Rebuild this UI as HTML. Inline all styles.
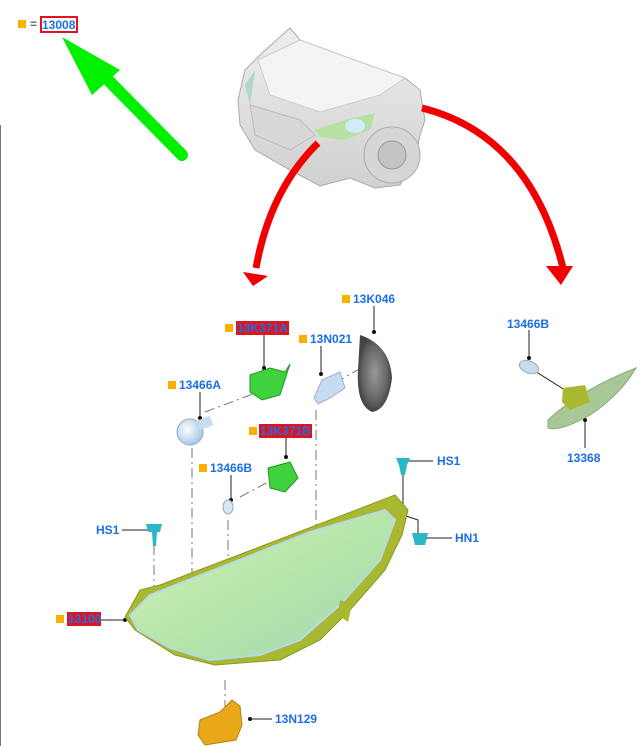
<!DOCTYPE html>
<html><head><meta charset="utf-8"><style>
html,body{margin:0;padding:0;background:#fff;}
svg{display:block}
text{font-family:"Liberation Sans",Arial,sans-serif;font-weight:bold;font-size:12px;fill:#1a6fe8}
</style></head><body>
<svg width="643" height="746" viewBox="0 0 643 746" xmlns="http://www.w3.org/2000/svg">
<defs>
<linearGradient id="lamp" x1="0" y1="0" x2="1" y2="1"><stop offset="0" stop-color="#d8f2c0"/><stop offset="0.5" stop-color="#b6e6a8"/><stop offset="1" stop-color="#9fd8b8"/></linearGradient>
<radialGradient id="bulb" cx="0.4" cy="0.4" r="0.6"><stop offset="0" stop-color="#ffffff"/><stop offset="1" stop-color="#a9c8e8"/></radialGradient>
<radialGradient id="cap" cx="0.5" cy="0.5" r="0.5"><stop offset="0" stop-color="#999"/><stop offset="0.7" stop-color="#666"/><stop offset="1" stop-color="#444"/></radialGradient>
<linearGradient id="car" x1="0" y1="0" x2="0" y2="1"><stop offset="0" stop-color="#eeeeee"/><stop offset="1" stop-color="#d0d0d0"/></linearGradient>
</defs>
<line x1="0.5" y1="125" x2="0.5" y2="746" stroke="#777" stroke-width="1"/>
<rect x="18" y="20" width="8" height="8" fill="#fbb000"/>
<text x="30" y="28" style="fill:#666">=</text>
<rect x="41" y="17" width="36" height="15" fill="#fff" stroke="#e0141e" stroke-width="2"/>
<text x="42" y="29">13008</text>
<line x1="182" y1="155" x2="110" y2="82" stroke="#00f000" stroke-width="12" stroke-linecap="round"/>
<polygon points="62,37 120,70 92,95" fill="#00f000"/>
<!-- car -->
<path d="M290,28 L300,40 L360,62 L405,78 L420,90 L425,120 L420,135 L415,160 L400,185 L375,188 L350,178 L320,186 L290,170 L255,150 L240,125 L238,100 L245,70 L260,55 Z" fill="url(#car)" stroke="#aaa"/>
<path d="M258,60 L300,40 L360,62 L405,78 L380,95 L320,112 L270,95 Z" fill="#f4f4f4" stroke="#ccc"/>
<path d="M250,105 L300,120 L315,135 L290,150 L255,135 Z" fill="#d8d8d8" stroke="#bbb"/>
<path d="M315,130 L345,120 L375,113 L370,130 L345,140 L320,137 Z" fill="#b8e0a0"/>
<ellipse cx="355" cy="126" rx="10" ry="7" fill="#d0ecf8"/>
<path d="M245,85 L255,70 L250,105 Z" fill="#b0d8c8"/>
<circle cx="392" cy="155" r="28" fill="#d6d6d6" stroke="#aaa"/>
<circle cx="392" cy="155" r="14" fill="#c4c4c4" stroke="#999"/>
<path d="M318,143 Q270,190 256,268" fill="none" stroke="#f00000" stroke-width="7"/>
<polygon points="243,272 268,276 253,286" fill="#f00000"/>
<path d="M422,108 Q530,135 563,268" fill="none" stroke="#f00000" stroke-width="7"/>
<polygon points="546,266 573,266 561,285" fill="#f00000"/>
<g stroke="#777" stroke-width="1" stroke-dasharray="10,4,2,4" fill="none">
<line x1="192" y1="448" x2="192" y2="580"/>
<line x1="228" y1="520" x2="228" y2="565"/>
<line x1="316" y1="410" x2="316" y2="535"/>
<line x1="154" y1="545" x2="154" y2="590"/>
<line x1="225" y1="680" x2="225" y2="720"/>
<line x1="205" y1="412" x2="258" y2="392"/>
<line x1="240" y1="497" x2="272" y2="480"/>
<line x1="335" y1="383" x2="375" y2="360"/>
</g>
<g stroke="#222" stroke-width="1" fill="none">
<line x1="264" y1="335" x2="264" y2="368"/>
<line x1="321" y1="346" x2="321" y2="374"/>
<line x1="374" y1="306" x2="374" y2="332"/>
<line x1="200" y1="392" x2="200" y2="418"/>
<line x1="286" y1="437" x2="286" y2="457"/>
<line x1="231" y1="475" x2="231" y2="500"/>
<line x1="122" y1="530" x2="155" y2="530"/>
<line x1="408" y1="461" x2="433" y2="461"/>
<polyline points="403,465 403,515 418,520 418,538"/>
<line x1="425" y1="538" x2="452" y2="538"/>
<line x1="100" y1="620" x2="125" y2="620"/>
<line x1="250" y1="719" x2="272" y2="719"/>
<line x1="529" y1="330" x2="529" y2="358"/>
<line x1="585" y1="420" x2="585" y2="448"/>
<line x1="530" y1="368" x2="565" y2="390"/>
</g>
<g fill="#111">
<circle cx="264" cy="368" r="2"/><circle cx="321" cy="374" r="2"/><circle cx="374" cy="332" r="2"/>
<circle cx="200" cy="418" r="2"/><circle cx="286" cy="457" r="2"/><circle cx="231" cy="500" r="2"/>
<circle cx="155" cy="530" r="2"/><circle cx="403" cy="461" r="2"/><circle cx="425" cy="538" r="2"/>
<circle cx="125" cy="620" r="2"/><circle cx="250" cy="719" r="2"/><circle cx="529" cy="358" r="2"/><circle cx="585" cy="420" r="2"/>
</g>
<path d="M360,335 Q390,345 392,378 Q388,410 372,412 Q356,405 358,370 Z" fill="url(#cap)"/>
<path d="M322,380 L340,372 L345,388 L330,398 L318,404 L314,398 Z" fill="#c8dcf0" stroke="#98b0d0"/>
<path d="M250,375 L270,368 L285,372 L290,364 L280,395 L262,400 L250,392 Z" fill="#3fd23f" stroke="#1c9a1c"/>
<circle cx="190" cy="432" r="13" fill="url(#bulb)" stroke="#9ab"/>
<rect x="198" y="418" width="14" height="10" fill="#c8dcf0" transform="rotate(-20 205 423)"/>
<path d="M268,468 L290,462 L298,478 L285,492 L270,488 Z" fill="#3fd23f" stroke="#1c9a1c"/>
<ellipse cx="228" cy="507" rx="5" ry="7" fill="#d8e6f5" stroke="#9ab"/>
<path d="M146,524 L162,524 L160,532 L157,532 L156,546 L153,546 L152,532 L148,532 Z" fill="#2ab8c8"/>
<path d="M396,458 L410,458 L407,465 L405,475 L401,475 L399,465 Z" fill="#2ab8c8"/>
<path d="M412,533 L428,533 L425,545 L415,545 Z" fill="#2ab8c8"/>
<path d="M140,590 L160,585 L330,520 L395,495 L408,510 L402,535 L385,570 L350,610 L320,640 L280,660 L215,665 L175,655 L135,630 L125,617 Z" fill="#a8b830" stroke="#8a9a20"/>
<path d="M130,615 L150,595 L310,532 L385,510 L395,520 L380,560 L340,605 L300,640 L260,655 L210,660 L170,648 L138,630 Z" fill="url(#lamp)" stroke="#b8d8e8" stroke-width="2"/>
<path d="M340,600 L352,605 L348,622 L338,615 Z" fill="#a8b830"/>
<path d="M200,720 L220,712 L232,700 L240,706 L242,725 L236,740 L205,745 L198,735 Z" fill="#e8a818" stroke="#b88010"/>
<path d="M548,420 Q580,390 636,368 Q620,395 590,415 Q560,432 548,428 Z" fill="#a8c898" stroke="#88a878"/>
<path d="M563,388 L585,385 L590,402 L570,410 L562,402 Z" fill="#a8b830"/>
<ellipse cx="529" cy="367" rx="10" ry="6" fill="#c8dcf0" stroke="#9ab" transform="rotate(20 529 367)"/>
<g fill="#fbb000">
<rect x="342" y="295" width="8" height="8"/><rect x="225" y="324" width="8" height="8"/>
<rect x="299" y="335" width="8" height="8"/><rect x="168" y="381" width="8" height="8"/>
<rect x="249" y="427" width="8" height="8"/><rect x="199" y="464" width="8" height="8"/>
<rect x="56" y="615" width="8" height="8"/>
</g>
<rect x="236" y="321" width="53" height="14" fill="#e0141e"/>
<rect x="259" y="424" width="53" height="14" fill="#e0141e"/>
<rect x="67" y="612" width="34" height="14" fill="#e0141e"/>
<text x="353" y="303">13K046</text>
<text x="237" y="332">13K371A</text>
<text x="310" y="343">13N021</text>
<text x="179" y="389">13466A</text>
<text x="260" y="435">13K371B</text>
<text x="210" y="472">13466B</text>
<text x="96" y="534">HS1</text>
<text x="437" y="465">HS1</text>
<text x="455" y="542">HN1</text>
<text x="68" y="623">13100</text>
<text x="275" y="723">13N129</text>
<text x="507" y="328">13466B</text>
<text x="567" y="462">13368</text>
</svg>
</body></html>
